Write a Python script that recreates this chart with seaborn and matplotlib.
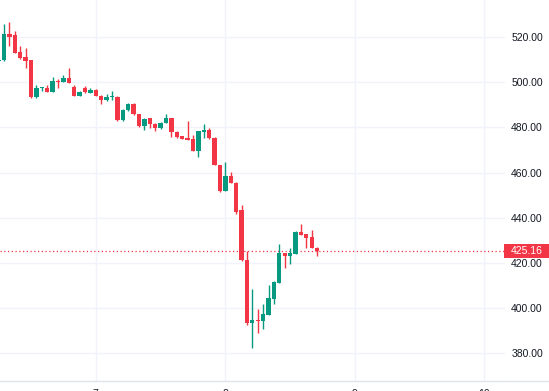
import matplotlib
matplotlib.use("Agg")
import matplotlib.pyplot as plt
import seaborn as sns
import numpy as np
import pandas as pd
from matplotlib.patches import Rectangle
from matplotlib.lines import Line2D

# ---- data ----
idx = list(range(-1, 59))
opens = [509.3, 509.8, 521.3, 520.9, 513.5, 511.2, 509.7, 493.3, 497.4, 497.6,
         495.8, 500.5, 500.3, 501.7, 498.0, 493.9, 497.5, 495.4, 496.5, 494.0,
         492.0, 493.3, 493.5, 483.1, 487.6, 490.5, 485.8, 480.8, 484.0, 481.6,
         479.6, 482.1, 484.0, 477.8, 476.1, 475.4, 474.9, 469.6, 477.8, 479.0,
         475.4, 463.4, 451.9, 458.6, 455.5, 443.5, 421.3, 393.6, 395.0, 394.5,
         397.0, 403.9, 411.3, 424.3, 423.1, 424.1, 433.6, 432.7, 431.5, 426.8]
highs = [509.9, 525.8, 526.8, 522.7, 516.2, 515.0, 509.9, 498.8, 497.9, 498.8,
         502.4, 501.4, 503.2, 506.4, 498.8, 496.0, 498.3, 497.3, 496.8, 494.3,
         494.9, 496.1, 493.8, 488.0, 490.7, 490.8, 486.0, 484.3, 484.3, 481.9,
         482.4, 486.0, 484.3, 478.6, 476.4, 482.8, 476.6, 478.6, 481.4, 479.9,
         475.6, 463.6, 464.6, 460.4, 455.7, 445.5, 425.4, 408.4, 399.5, 401.9,
         410.3, 412.0, 428.3, 424.5, 426.5, 434.3, 437.1, 432.9, 434.5, 427.0]
lows = [509.0, 509.5, 516.2, 513.1, 510.5, 506.2, 493.1, 493.1, 496.2, 495.6,
        495.6, 497.6, 500.1, 499.5, 493.8, 493.7, 495.3, 495.2, 493.8, 490.2,
        491.8, 492.3, 482.8, 482.9, 487.4, 485.6, 480.3, 478.8, 479.9, 478.4,
        479.4, 481.9, 475.8, 475.4, 474.8, 474.4, 469.4, 467.0, 475.4, 475.0,
        463.2, 451.3, 451.7, 455.3, 441.5, 421.1, 392.7, 382.3, 388.9, 390.9,
        396.8, 401.9, 411.1, 417.8, 419.6, 423.9, 432.2, 426.8, 426.6, 423.2]
closes = [509.8, 521.3, 520.0, 513.1, 510.9, 509.5, 493.3, 497.3, 497.9, 495.8,
          500.5, 500.0, 502.0, 499.6, 493.9, 495.8, 495.5, 496.5, 494.0, 492.0,
          493.5, 493.8, 483.1, 487.8, 490.5, 485.8, 480.8, 483.7, 481.6, 479.6,
          482.1, 484.0, 477.8, 475.8, 475.0, 474.6, 469.6, 478.4, 479.0, 475.2,
          463.4, 451.9, 458.6, 455.5, 442.7, 421.3, 393.6, 394.8, 394.5, 397.4,
          404.4, 411.7, 424.3, 423.1, 424.3, 433.6, 432.4, 431.2, 426.8, 425.16]

last_price = 425.16
y_ticks = [380, 400, 420, 440, 460, 480, 500, 520]
x_tick_pos = [17, 41, 65, 89]
x_tick_labels = ["7", "8", "9", "10"]

df = pd.DataFrame({"i": idx, "open": opens, "high": highs, "low": lows, "close": closes})

UP = "#089981"
DOWN = "#F23645"
GRID = "#F0F3FA"
TEXT = "#131722"

sns.set_theme(style="white")
plt.rcParams["font.family"] = ["Liberation Sans", "DejaVu Sans"]

W, H = 549, 391
fig = plt.figure(figsize=(W / 100, H / 100), dpi=100)
fig.patch.set_facecolor("white")
ax = fig.add_axes([0, 10 / H, 505 / W, 381 / H])
ax.set_facecolor("white")

ax.set_xlim(-0.74, 92.8)
ax.set_ylim(367.8, 536.4)

# grid
for yv in y_ticks:
    ax.axhline(yv, color=GRID, lw=1, zorder=0)
for xv in x_tick_pos:
    ax.axvline(xv, color=GRID, lw=1, zorder=0)

colors = [UP if c >= o else DOWN for o, c in zip(df["open"], df["close"])]
bottoms = np.minimum(df["open"], df["close"])
heights = np.maximum(np.abs(df["close"] - df["open"]), 0.45)

ax.vlines(df["i"], df["low"], df["high"], colors=colors, lw=1.0, zorder=2)
ax.bar(df["i"], heights, bottom=bottoms, width=0.8, color=colors, linewidth=0, zorder=3)

# last price dotted line
ax.axhline(last_price, color=DOWN, lw=0.9, ls=(0, (1, 2)), zorder=1)

# ticks
ax.yaxis.tick_right()
ax.set_yticks(y_ticks)
ax.set_yticklabels([f"{v:.2f}" for v in y_ticks], fontsize=7.5, color=TEXT)
ax.tick_params(axis="y", length=0, pad=4.5)
ax.set_xticks(x_tick_pos)
ax.set_xticklabels(x_tick_labels, fontsize=7.5, color=TEXT)
ax.tick_params(axis="x", length=0, pad=6.0)

for s in ["top", "right", "left"]:
    ax.spines[s].set_visible(False)
ax.spines["bottom"].set_color("#E0E3EB")
ax.spines["bottom"].set_linewidth(1)

# bottom border continuing under price scale
fig.add_artist(Line2D([505 / W, 1], [10 / H, 10 / H], transform=fig.transFigure,
                      color="#E0E3EB", lw=1))

# last price label
ly = 1 - 251.3 / H
box_h = 14 / H
fig.add_artist(Rectangle((504 / W, ly - box_h / 2), 45 / W, box_h,
                         transform=fig.transFigure, color=DOWN, lw=0, zorder=5))
fig.text(526.5 / W, ly, f"{last_price:.2f}", color="white", fontsize=7.5,
         ha="center", va="center", zorder=6)

fig.savefig("out.png", dpi=100)
